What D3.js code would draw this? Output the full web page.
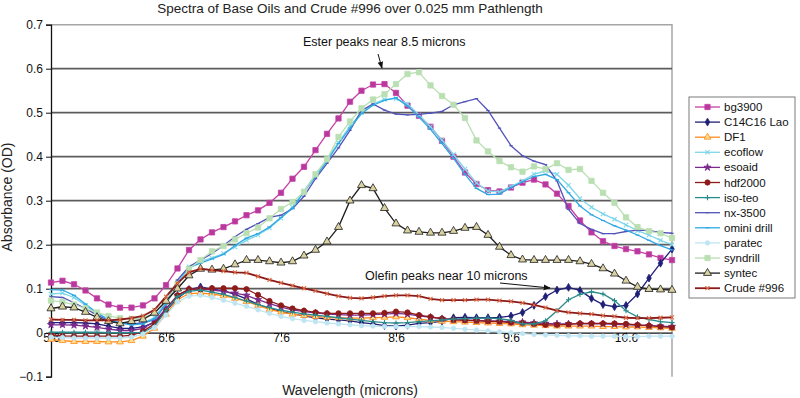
<!DOCTYPE html>
<html>
<head>
<meta charset="utf-8">
<script src="https://cdn.jsdelivr.net/npm/d3@7"></script>
<style>
  body { margin: 0; background: #fff; }
  svg { display: block; font-family: "Liberation Sans", Arial, sans-serif; }
</style>
</head>
<body>
<svg id="chart" width="800" height="398"></svg>
<script>
// wavelength in microns, one reading every 0.1
const wavelength = [
  5.6, 5.7, 5.8, 5.9, 6.0, 6.1, 6.2, 6.3, 6.4, 6.5,
  6.6, 6.7, 6.8, 6.9, 7.0, 7.1, 7.2, 7.3, 7.4, 7.5,
  7.6, 7.7, 7.8, 7.9, 8.0, 8.1, 8.2, 8.3, 8.4, 8.5,
  8.6, 8.7, 8.8, 8.9, 9.0, 9.1, 9.2, 9.3, 9.4, 9.5,
  9.6, 9.7, 9.8, 9.9, 10.0, 10.1, 10.2, 10.3, 10.4, 10.5,
  10.6, 10.7, 10.8, 10.9, 11.0
];

const bg3900 = [
  0.114, 0.118, 0.110, 0.096, 0.078, 0.064, 0.057, 0.057, 0.062, 0.078,
  0.108, 0.146, 0.188, 0.212, 0.228, 0.240, 0.253, 0.267, 0.278, 0.295,
  0.318, 0.350, 0.377, 0.415, 0.452, 0.487, 0.525, 0.550, 0.564, 0.565,
  0.545, 0.516, 0.493, 0.468, 0.436, 0.400, 0.364, 0.338, 0.324, 0.321,
  0.330, 0.341, 0.348, 0.337, 0.316, 0.288, 0.255, 0.228, 0.208, 0.197,
  0.190, 0.185, 0.178, 0.170, 0.165
];
const c14c16Lao = [
  0.023, 0.023, 0.023, 0.022, 0.020, 0.015, 0.010, 0.010, 0.013, 0.024,
  0.050, 0.078, 0.098, 0.104, 0.099, 0.095, 0.087, 0.077, 0.064, 0.055,
  0.048, 0.043, 0.038, 0.034, 0.031, 0.029, 0.027, 0.023, 0.020, 0.016,
  0.015, 0.017, 0.021, 0.023, 0.026, 0.034, 0.035, 0.034, 0.034, 0.035,
  0.038, 0.046, 0.062, 0.082, 0.097, 0.103, 0.096, 0.078, 0.064, 0.059,
  0.062, 0.088, 0.124, 0.158, 0.190
];
const df1 = [
  -0.015, -0.018, -0.020, -0.020, -0.020, -0.021, -0.021, -0.018, -0.008, 0.010,
  0.042, 0.075, 0.089, 0.090, 0.088, 0.084, 0.078, 0.071, 0.062, 0.053,
  0.047, 0.042, 0.039, 0.037, 0.035, 0.034, 0.033, 0.033, 0.034, 0.035,
  0.036, 0.034, 0.031, 0.028, 0.026, 0.025, 0.024, 0.023, 0.022, 0.021,
  0.020, 0.018, 0.017, 0.016, 0.015, 0.015, 0.015, 0.015, 0.014, 0.014,
  0.013, 0.013, 0.012, 0.011, 0.010
];
const ecoflow = [
  0.088, 0.090, 0.080, 0.062, 0.044, 0.030, 0.022, 0.020, 0.022, 0.035,
  0.070, 0.115, 0.150, 0.162, 0.170, 0.180, 0.195, 0.210, 0.222, 0.238,
  0.260, 0.285, 0.322, 0.360, 0.395, 0.432, 0.470, 0.500, 0.520, 0.530,
  0.532, 0.520, 0.495, 0.468, 0.438, 0.405, 0.372, 0.340, 0.322, 0.320,
  0.332, 0.345, 0.360, 0.368, 0.360, 0.335, 0.305, 0.285, 0.270, 0.258,
  0.245, 0.232, 0.222, 0.210, 0.200
];
const esoaid = [
  0.018, 0.018, 0.017, 0.015, 0.012, 0.008, 0.005, 0.005, 0.010, 0.025,
  0.055, 0.085, 0.098, 0.100, 0.097, 0.094, 0.090, 0.085, 0.075, 0.066,
  0.058, 0.052, 0.048, 0.045, 0.042, 0.041, 0.040, 0.040, 0.041, 0.042,
  0.044, 0.042, 0.038, 0.035, 0.032, 0.030, 0.029, 0.028, 0.027, 0.026,
  0.025, 0.024, 0.022, 0.021, 0.020, 0.020, 0.020, 0.020, 0.020, 0.019,
  0.018, 0.017, 0.016, 0.015, 0.014
];
const hdf2000 = [
  -0.005, -0.007, -0.008, -0.008, -0.008, -0.008, -0.008, -0.006, 0.003, 0.020,
  0.050, 0.085, 0.099, 0.099, 0.101, 0.101, 0.101, 0.099, 0.086, 0.072,
  0.062, 0.055, 0.050, 0.046, 0.044, 0.044, 0.044, 0.044, 0.044, 0.045,
  0.048, 0.046, 0.040, 0.036, 0.032, 0.029, 0.028, 0.027, 0.026, 0.025,
  0.023, 0.022, 0.020, 0.018, 0.018, 0.019, 0.021, 0.021, 0.021, 0.021,
  0.020, 0.018, 0.016, 0.014, 0.012
];
const isoTeo = [
  0.001, 0.001, 0.001, 0.001, 0.001, 0.000, 0.000, 0.000, 0.000, 0.015,
  0.050, 0.082, 0.094, 0.097, 0.092, 0.087, 0.080, 0.072, 0.064, 0.057,
  0.051, 0.047, 0.043, 0.040, 0.037, 0.034, 0.031, 0.028, 0.025, 0.023,
  0.022, 0.023, 0.025, 0.027, 0.029, 0.031, 0.032, 0.033, 0.033, 0.032,
  0.028, 0.020, 0.020, 0.027, 0.050, 0.075, 0.087, 0.093, 0.088, 0.073,
  0.050, 0.036, 0.030, 0.025, 0.023
];
const nx3500 = [
  0.082, 0.080, 0.068, 0.055, 0.040, 0.028, 0.023, 0.020, 0.022, 0.030,
  0.065, 0.120, 0.150, 0.165, 0.180, 0.198, 0.218, 0.235, 0.248, 0.262,
  0.267, 0.282, 0.310, 0.350, 0.385, 0.420, 0.460, 0.505, 0.520, 0.506,
  0.497, 0.495, 0.496, 0.499, 0.503, 0.518, 0.525, 0.532, 0.505, 0.465,
  0.425, 0.402, 0.390, 0.382, 0.345, 0.280, 0.248, 0.235, 0.225, 0.225,
  0.230, 0.233, 0.232, 0.228, 0.226
];
const ominiDrill = [
  0.098, 0.097, 0.085, 0.065, 0.045, 0.030, 0.022, 0.018, 0.020, 0.032,
  0.065, 0.110, 0.148, 0.158, 0.168, 0.178, 0.198, 0.215, 0.225, 0.240,
  0.262, 0.283, 0.320, 0.355, 0.390, 0.430, 0.465, 0.498, 0.517, 0.528,
  0.534, 0.515, 0.490, 0.462, 0.430, 0.396, 0.360, 0.328, 0.314, 0.315,
  0.330, 0.343, 0.355, 0.360, 0.348, 0.318, 0.288, 0.268, 0.255, 0.243,
  0.233, 0.222, 0.210, 0.198, 0.188
];
const paratec = [
  -0.010, -0.011, -0.012, -0.012, -0.012, -0.012, -0.012, -0.010, -0.003, 0.012,
  0.040, 0.070, 0.083, 0.085, 0.080, 0.074, 0.067, 0.060, 0.052, 0.044,
  0.037, 0.032, 0.028, 0.025, 0.022, 0.020, 0.018, 0.016, 0.015, 0.014,
  0.014, 0.014, 0.014, 0.013, 0.012, 0.010, 0.008, 0.006, 0.004, 0.002,
  0.000, -0.002, -0.004, -0.005, -0.006, -0.007, -0.007, -0.008, -0.008, -0.008,
  -0.009, -0.009, -0.008, -0.008, -0.008
];
const syndrill = [
  0.073, 0.070, 0.064, 0.055, 0.046, 0.038, 0.033, 0.031, 0.034, 0.045,
  0.072, 0.110, 0.145, 0.165, 0.185, 0.197, 0.212, 0.226, 0.239, 0.260,
  0.281, 0.297, 0.320, 0.360, 0.394, 0.445, 0.480, 0.510, 0.530, 0.542,
  0.565, 0.588, 0.592, 0.562, 0.538, 0.518, 0.488, 0.437, 0.412, 0.390,
  0.376, 0.366, 0.378, 0.372, 0.385, 0.370, 0.372, 0.345, 0.318, 0.295,
  0.262, 0.240, 0.231, 0.226, 0.215
];
const syntec = [
  0.055, 0.059, 0.057, 0.047, 0.035, 0.026, 0.021, 0.026, 0.030, 0.045,
  0.072, 0.100, 0.130, 0.145, 0.143, 0.145, 0.155, 0.165, 0.165, 0.162,
  0.159, 0.162, 0.175, 0.188, 0.207, 0.240, 0.300, 0.335, 0.328, 0.283,
  0.248, 0.232, 0.229, 0.227, 0.227, 0.231, 0.238, 0.240, 0.222, 0.195,
  0.176, 0.166, 0.165, 0.165, 0.165, 0.165, 0.162, 0.156, 0.146, 0.134,
  0.118, 0.104, 0.099, 0.098, 0.097
];
const crude996 = [
  0.030, 0.029, 0.029, 0.028, 0.028, 0.028, 0.030, 0.033, 0.038, 0.052,
  0.082, 0.112, 0.137, 0.145, 0.142, 0.140, 0.137, 0.136, 0.128, 0.120,
  0.113, 0.107, 0.101, 0.095, 0.089, 0.083, 0.079, 0.078, 0.080, 0.083,
  0.085, 0.085, 0.083, 0.077, 0.074, 0.074, 0.074, 0.075, 0.075, 0.073,
  0.071, 0.068, 0.063, 0.057, 0.050, 0.046, 0.044, 0.042, 0.039, 0.037,
  0.034, 0.033, 0.033, 0.034, 0.035
];

const yTicks = [-0.1, 0, 0.1, 0.2, 0.3, 0.4, 0.5, 0.6, 0.7];
const xTicks = [5.6, 6.6, 7.6, 8.6, 9.6, 10.6];

// line colour, marker shape and marker colours per series
const series = [
  { name: 'bg3900', values: bg3900, color: '#c540a8', shape: 'square', fill: '#b8399c', size: 28 },
  { name: 'C14C16 Lao', values: c14c16Lao, color: '#1f1f78', shape: 'diamond', fill: '#1f1f78', size: 18 },
  { name: 'DF1', values: df1, color: '#ff8a1e', shape: 'triangle', fill: '#ffe08a', size: 20 },
  { name: 'ecoflow', values: ecoflow, color: '#7fd6e8', shape: 'times', fill: 'none', size: 18 },
  { name: 'esoaid', values: esoaid, color: '#7b2a8c', shape: 'star', fill: '#7b2a8c', size: 16 },
  { name: 'hdf2000', values: hdf2000, color: '#8e1b1b', shape: 'circle', fill: '#8e1b1b', size: 22 },
  { name: 'iso-teo', values: isoTeo, color: '#2b8a8a', shape: 'plus', fill: 'none', size: 22 },
  { name: 'nx-3500', values: nx3500, color: '#5252b8', shape: 'dash', fill: 'none', size: 6 },
  { name: 'omini drill', values: ominiDrill, color: '#2fa9e3', shape: 'dash', fill: 'none', size: 8 },
  { name: 'paratec', values: paratec, color: '#bfe4f2', shape: 'circle', fill: '#bfe4f2', size: 16 },
  { name: 'syndrill', values: syndrill, color: '#b9dfb2', shape: 'square', fill: '#b9dfb2', size: 28 },
  { name: 'syntec', values: syntec, color: '#1e1e1e', shape: 'triangle', fill: '#d9d2a0', size: 28 },
  { name: 'Crude #996', values: crude996, color: '#8b1a1a', shape: 'times', fill: 'none', size: 16, markColor: '#de6a45', width: 1.8 }
];

const svg = d3.select('#chart');

const x = d3.scaleLinear().domain([5.6, 11.0]).range([51, 672]);
const y = d3.scaleLinear().domain([-0.1, 0.7]).range([376.7, 24.7]);

// plot frame: light top and right edges
svg.append('path')
  .attr('d', `M${x(5.6)},${y(0.7)}H${x(11.0)}V${y(-0.1)}`)
  .attr('fill', 'none')
  .attr('stroke', '#a6a6a6')
  .attr('stroke-width', 1.5);

// horizontal gridlines
svg.append('g')
  .selectAll('line')
  .data(yTicks.filter((t) => t > 0.05 && t < 0.65))
  .enter()
  .append('line')
  .attr('x1', x(5.6))
  .attr('x2', x(11.0))
  .attr('y1', (d) => y(d))
  .attr('y2', (d) => y(d))
  .attr('stroke', '#5c5c5c')
  .attr('stroke-width', 1.7);

// y axis
const yAxis = svg.append('g')
  .attr('transform', `translate(${x(5.6)},0)`)
  .call(d3.axisLeft(y).tickValues(yTicks).tickSize(5)
    .tickFormat((d) => (d < 0 ? '\u2212' + Math.abs(d) : String(d))));
yAxis.select('.domain').attr('stroke', '#111').attr('stroke-width', 1.3);
yAxis.selectAll('.tick line').attr('stroke', '#111');
yAxis.selectAll('.tick text')
  .attr('font-size', 12)
  .attr('font-family', '"Liberation Sans", Arial, sans-serif')
  .attr('fill', '#111')
  .attr('x', -8);

// x axis crosses at zero
const xAxis = svg.append('g')
  .attr('transform', `translate(0,${y(0)})`)
  .call(d3.axisBottom(x).tickValues(xTicks).tickSize(4).tickSizeOuter(0)
    .tickFormat(d3.format('.1f')));
xAxis.select('.domain').attr('stroke', '#111').attr('stroke-width', 1.3);
xAxis.selectAll('.tick line').attr('stroke', '#111');
xAxis.selectAll('.tick text')
  .attr('font-size', 12)
  .attr('font-family', '"Liberation Sans", Arial, sans-serif')
  .attr('fill', '#111')
  .attr('y', 1);

function markerPath(shape, size) {
  const r = Math.sqrt(size) / 2;
  if (shape === 'dash') return `M${-r * 1.4},0H${r * 1.4}`;
  if (shape === 'plus') return `M${-r * 1.1},0H${r * 1.1}M0,${-r * 1.1}V${r * 1.1}`;
  if (shape === 'times') return `M${-r},${-r}L${r},${r}M${-r},${r}L${r},${-r}`;
  const types = {
    square: d3.symbolSquare,
    diamond: d3.symbolDiamond,
    triangle: d3.symbolTriangle,
    circle: d3.symbolCircle,
    star: d3.symbolStar
  };
  return d3.symbol().type(types[shape]).size(size)();
}
const strokeOnly = (s) => ['dash', 'plus', 'times'].includes(s.shape);

const line = d3.line()
  .x((d) => x(d[0]))
  .y((d) => y(d[1]));

const plot = svg.append('g');
series.forEach((s) => {
  const pts = wavelength.map((w, i) => [w, s.values[i]]);
  const g = plot.append('g');
  g.append('path')
    .datum(pts)
    .attr('d', line)
    .attr('fill', 'none')
    .attr('stroke', s.color)
    .attr('stroke-width', s.width || 1.3);
  g.selectAll('path.mk')
    .data(pts)
    .enter()
    .append('path')
    .attr('class', 'mk')
    .attr('transform', (d) => `translate(${x(d[0])},${y(d[1])})`)
    .attr('d', markerPath(s.shape, s.size))
    .attr('fill', strokeOnly(s) ? 'none' : s.fill)
    .attr('stroke', s.markColor || s.color)
    .attr('stroke-width', strokeOnly(s) ? 1.1 : 0.8);
});

// title and axis titles
svg.append('text')
  .attr('x', 350)
  .attr('y', 13)
  .attr('text-anchor', 'middle')
  .attr('font-size', 13.5)
  .attr('fill', '#222')
  .text('Spectra of Base Oils and Crude #996 over 0.025 mm Pathlength');

svg.append('text')
  .attr('x', 350)
  .attr('y', 395)
  .attr('text-anchor', 'middle')
  .attr('font-size', 14)
  .attr('fill', '#222')
  .text('Wavelength (microns)');

svg.append('text')
  .attr('transform', 'translate(12,197) rotate(-90)')
  .attr('text-anchor', 'middle')
  .attr('font-size', 14)
  .attr('fill', '#222')
  .text('Absorbance (OD)');

// annotations
svg.append('defs').append('marker')
  .attr('id', 'arrow')
  .attr('viewBox', '0 0 10 10')
  .attr('refX', 9)
  .attr('refY', 5)
  .attr('markerWidth', 7)
  .attr('markerHeight', 7)
  .attr('orient', 'auto')
  .append('path')
  .attr('d', 'M0,1L10,5L0,9Z')
  .attr('fill', '#111');

svg.append('text')
  .attr('x', 303)
  .attr('y', 46)
  .attr('font-size', 12.5)
  .attr('fill', '#111')
  .text('Ester peaks near 8.5 microns');
svg.append('line')
  .attr('x1', 378).attr('y1', 54)
  .attr('x2', 382).attr('y2', 68)
  .attr('stroke', '#111')
  .attr('stroke-width', 1)
  .attr('marker-end', 'url(#arrow)');

svg.append('text')
  .attr('x', 365)
  .attr('y', 280)
  .attr('font-size', 12.5)
  .attr('fill', '#111')
  .text('Olefin peaks near 10 microns');
svg.append('line')
  .attr('x1', 500).attr('y1', 283)
  .attr('x2', 550).attr('y2', 288)
  .attr('stroke', '#111')
  .attr('stroke-width', 1)
  .attr('marker-end', 'url(#arrow)');

// legend
const legend = svg.append('g').attr('transform', 'translate(689,97)');
legend.append('rect')
  .attr('width', 106)
  .attr('height', 201)
  .attr('fill', '#fff')
  .attr('stroke', '#7a7a7a')
  .attr('stroke-width', 1);
const item = legend.selectAll('g.item')
  .data(series)
  .enter()
  .append('g')
  .attr('class', 'item')
  .attr('transform', (d, i) => `translate(0,${10 + i * 15.1})`);
item.append('line')
  .attr('x1', 6).attr('x2', 31)
  .attr('stroke', (d) => d.color)
  .attr('stroke-width', (d) => d.width || 1.3);
item.append('path')
  .attr('transform', 'translate(18.5,0)')
  .attr('d', (d) => markerPath(d.shape, d.size))
  .attr('fill', (d) => (strokeOnly(d) ? 'none' : d.fill))
  .attr('stroke', (d) => d.markColor || d.color)
  .attr('stroke-width', (d) => (strokeOnly(d) ? 1.1 : 0.8));
item.append('text')
  .attr('x', 35)
  .attr('y', 4)
  .attr('font-size', 11.5)
  .attr('fill', '#111')
  .text((d) => d.name);
</script>
</body>
</html>
